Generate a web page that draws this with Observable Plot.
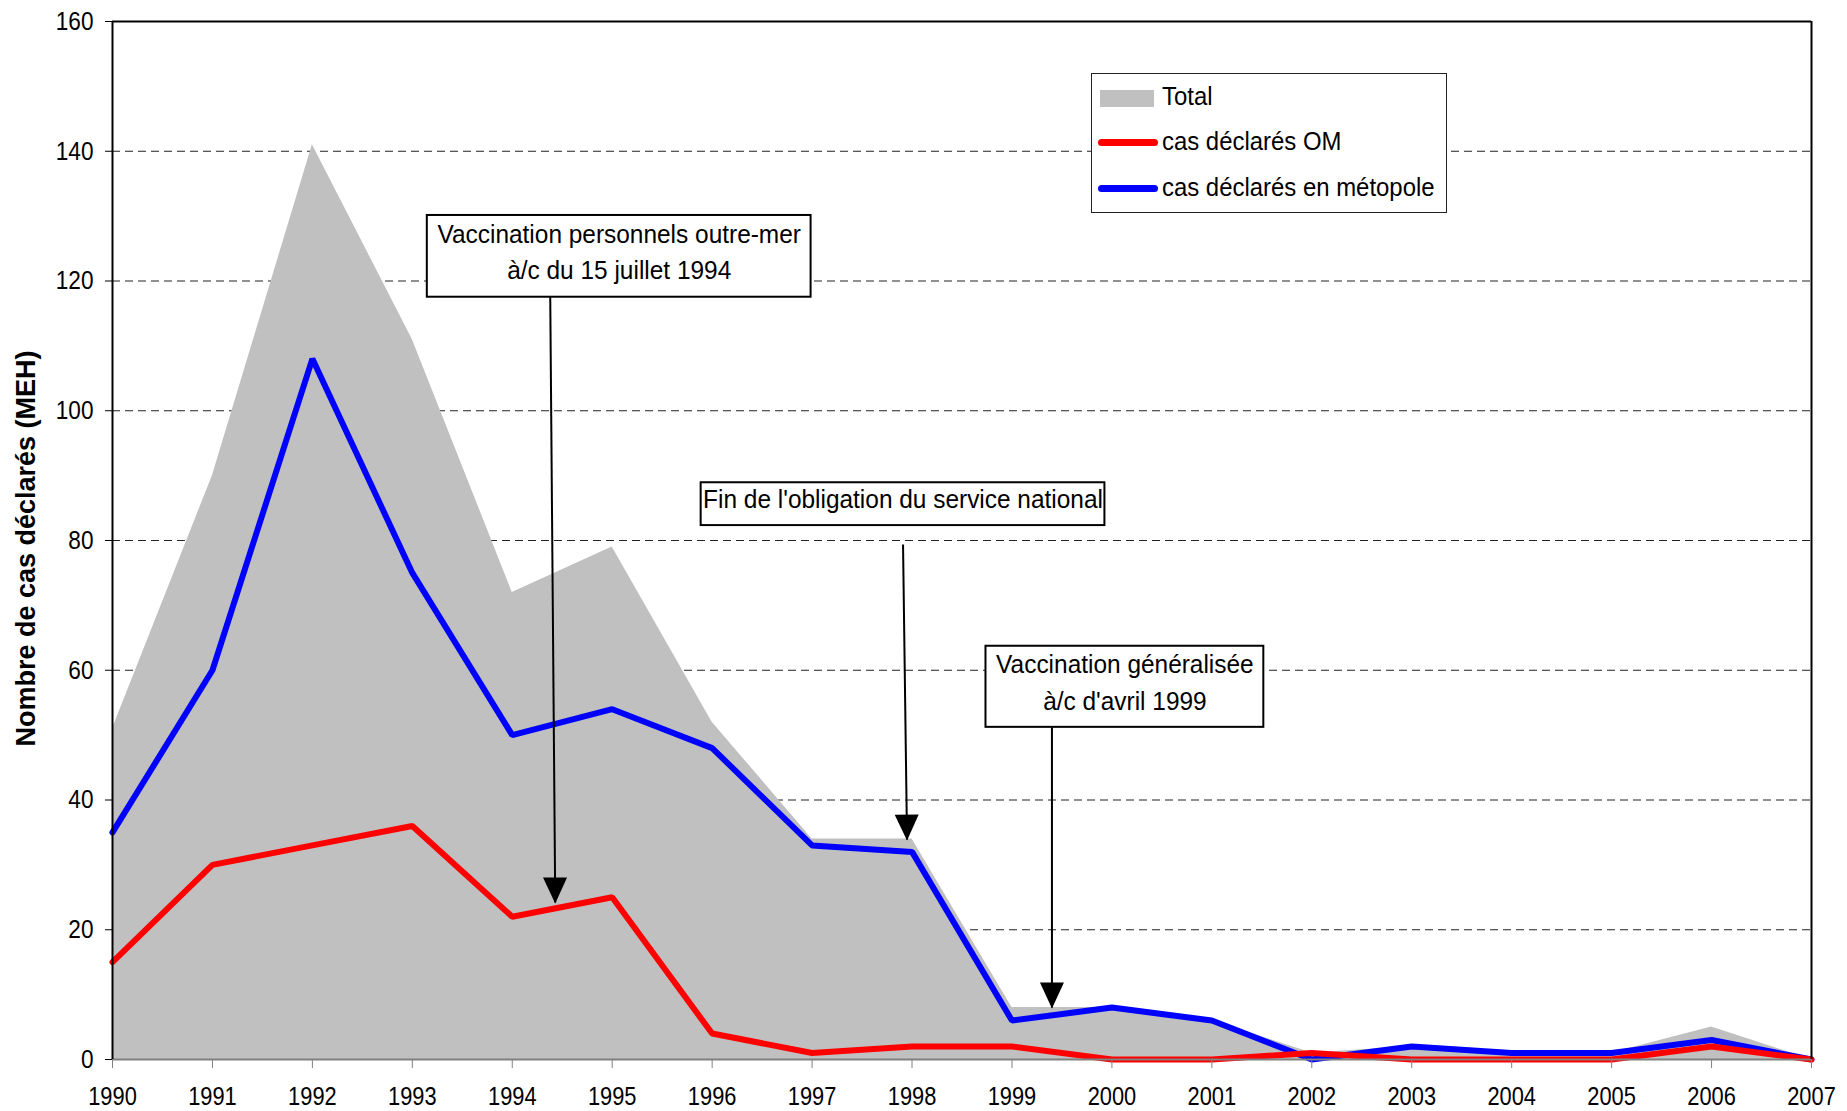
<!DOCTYPE html>
<html>
<head>
<meta charset="utf-8">
<script src="https://cdn.jsdelivr.net/npm/d3@7"></script>
<script src="https://cdn.jsdelivr.net/npm/@observablehq/plot@0.6"></script>
<style>
  html, body { margin: 0; padding: 0; background: #fff; }
  #wrap { position: relative; width: 1847px; height: 1111px; overflow: hidden; }
  .legend { position: absolute; left: 1091px; top: 73px; width: 356px; height: 140px;
    border: 1.5px solid #222; background: #fff; box-sizing: border-box;
    font-family: "Liberation Sans", Arial, sans-serif; font-size: 26px; color: #000; }
  .legend .row { position: absolute; left: 0; height: 40px; width: 100%; }
  .legend .sw { position: absolute; }
  .legend .lab { position: absolute; left: 70px; top: -2px; line-height: 40px; white-space: nowrap;
    display: inline-block; transform: scaleX(0.92); transform-origin: 0 50%; }
</style>
</head>
<body>
<div id="wrap"></div>
<script>
// ---- data ----
const years = [1990,1991,1992,1993,1994,1995,1996,1997,1998,1999,2000,2001,2002,2003,2004,2005,2006,2007];
const total = [51,90,141,111,72,79,52,34,34,8,8,6,1,2,1,1,5,0];
const casOM = [15,30,33,36,22,25,4,1,2,2,0,0,1,0,0,0,2,0];
const casMetropole = [35,60,108,75,50,54,48,33,32,6,8,6,0,2,1,1,3,0];
const yTicks = [0,20,40,60,80,100,120,140,160];
const gridValues = [20,40,60,80,100,120,140];
const seriesNames = ["Total", "cas déclarés OM", "cas déclarés en métopole"];
const yLabel = "Nombre de cas déclarés (MEH)";

// annotation texts and anchor points (data units: year, cases)
const noteTexts = [
  "Vaccination personnels outre-mer\nà/c du 15 juillet 1994",
  "Fin de l'obligation du service national",
  "Vaccination généralisée\nà/c d'avril 1999"
];
const noteBoxX1 = [1993.15, 1995.89, 1998.74];
const noteBoxX2 = [1996.99, 1999.93, 2001.52];
const noteBoxY1 = [117.5, 82.3, 51.2];
const noteBoxY2 = [130.1, 88.9, 63.7];
const noteTextX = [1995.07, 1997.91, 2000.13];
const noteTextY = [124.9, 86.9, 58.5];
const arrowX1 = [1994.38, 1997.91, 1999.40];
const arrowY1 = [117.5, 79.4, 51.2];
const arrowX2 = [1994.43, 1997.95, 1999.40];
const arrowY2 = [24.2, 33.9, 8.0];

const rows = years.map((y, i) => ({year: y, total: total[i], om: casOM[i], met: casMetropole[i]}));
const notes = noteTexts.map((t, i) => ({
  text: t, x1: noteBoxX1[i], x2: noteBoxX2[i], y1: noteBoxY1[i], y2: noteBoxY2[i],
  tx: noteTextX[i], ty: noteTextY[i],
  ax1: arrowX1[i], ay1: arrowY1[i], ax2: arrowX2[i], ay2: arrowY2[i]
}));

function headMarker(color, context) {
  const ns = "http://www.w3.org/2000/svg";
  const doc = (context && context.document) || document;
  const m = doc.createElementNS(ns, "marker");
  m.setAttribute("viewBox", "-26 -12 28 24");
  m.setAttribute("markerWidth", 28);
  m.setAttribute("markerHeight", 24);
  m.setAttribute("markerUnits", "userSpaceOnUse");
  m.setAttribute("refX", 0);
  m.setAttribute("refY", 0);
  m.setAttribute("orient", "auto");
  m.setAttribute("overflow", "visible");
  const p = doc.createElementNS(ns, "path");
  p.setAttribute("d", "M1,0L-25,-12L-25,12Z");
  p.setAttribute("fill", "#000");
  p.setAttribute("stroke", "none");
  m.appendChild(p);
  return m;
}

const sans = "'Liberation Sans', Arial, sans-serif";

const chart = Plot.plot({
  width: 1847,
  height: 1111,
  marginLeft: 112,
  marginRight: 36,
  marginTop: 21,
  marginBottom: 52,
  style: { fontFamily: sans, fontSize: "26px", background: "#fff", color: "#000", overflow: "visible" },
  x: { domain: [1990, 2007] },
  y: { domain: [0, 160] },
  marks: [
    Plot.ruleY(gridValues, { stroke: "#222", strokeWidth: 1, strokeDasharray: "8,5" }),
    Plot.areaY(rows, { x: "year", y: "total", fill: "#c0c0c0", curve: "linear" }),
    Plot.line(rows, { x: "year", y: "met", stroke: "#0000ff", strokeWidth: 6, strokeLinejoin: "miter", curve: "linear" }),
    Plot.line(rows, { x: "year", y: "om", stroke: "#ff0000", strokeWidth: 6, strokeLinejoin: "miter", curve: "linear" }),
    Plot.ruleY([0], { stroke: "#808080", strokeWidth: 2 }),
    Plot.ruleY([160], { stroke: "#000", strokeWidth: 2 }),
    Plot.ruleX([1990, 2007], { stroke: "#000", strokeWidth: 2 }),
    Plot.axisY({ ticks: yTicks, tickSize: 7, tickPadding: 12, label: null, fontSize: 26, stroke: "#000", fill: "#000" }),
    Plot.axisX({ ticks: years, tickFormat: d => String(d), tickSize: 9, tickPadding: 18, label: null, fontSize: 26, stroke: "#808080", fill: "#000" }),
    // annotations
    Plot.rect(notes, { x1: "x1", x2: "x2", y1: "y1", y2: "y2", fill: "#fff", stroke: "#000", strokeWidth: 2 }),
    Plot.text(notes, { x: "tx", y: "ty", text: "text", fontSize: 26, lineHeight: 1.42, fill: "#000", fontFamily: sans }),
    Plot.link(notes, { x1: "ax1", y1: "ay1", x2: "ax2", y2: "ay2", stroke: "#000", strokeWidth: 2, markerEnd: headMarker }),
    Plot.text([yLabel], { text: d => d, frameAnchor: "left", textAnchor: "middle", dx: -86, dy: 8, rotate: -90,
      fontWeight: "bold", fontSize: 27, fontFamily: sans, fill: "#000" })
  ]
});

const wrap = document.getElementById("wrap");
wrap.appendChild(chart);

// condense glyphs horizontally (the original uses a narrow face)
function condense(textEl, f) {
  const t = textEl.getAttribute("transform");
  if (t) {
    textEl.setAttribute("transform", t + ` scale(${f},1)`);
  } else {
    const x = +textEl.getAttribute("x") || 0, y = +textEl.getAttribute("y") || 0;
    textEl.setAttribute("transform", `translate(${x},${y}) scale(${f},1) translate(${-x},${-y})`);
  }
}
chart.querySelectorAll('g[aria-label="y-axis tick label"] text').forEach(el => condense(el, 0.87));
chart.querySelectorAll('g[aria-label="x-axis tick label"] text').forEach(el => condense(el, 0.84));
chart.querySelectorAll('g[aria-label="text"] text').forEach(el => {
  if (el.textContent !== yLabel) condense(el, 0.94);
});

// legend (inside plot area, top right)
const legend = document.createElement("div");
legend.className = "legend";
const swatches = [
  { top: 4, html: '<div class="sw" style="left:8px;top:12px;width:54px;height:17px;background:#c0c0c0"></div>' },
  { top: 49, html: '<div class="sw" style="left:6px;top:16px;width:60px;height:7px;border-radius:4px;background:#ff0000"></div>' },
  { top: 95, html: '<div class="sw" style="left:6px;top:16px;width:60px;height:7px;border-radius:4px;background:#0000ff"></div>' }
];
seriesNames.forEach((name, i) => {
  const r = document.createElement("div");
  r.className = "row";
  r.style.top = swatches[i].top + "px";
  r.innerHTML = swatches[i].html + '<span class="lab"></span>';
  r.querySelector(".lab").textContent = name;
  legend.appendChild(r);
});
wrap.appendChild(legend);
</script>
</body>
</html>
